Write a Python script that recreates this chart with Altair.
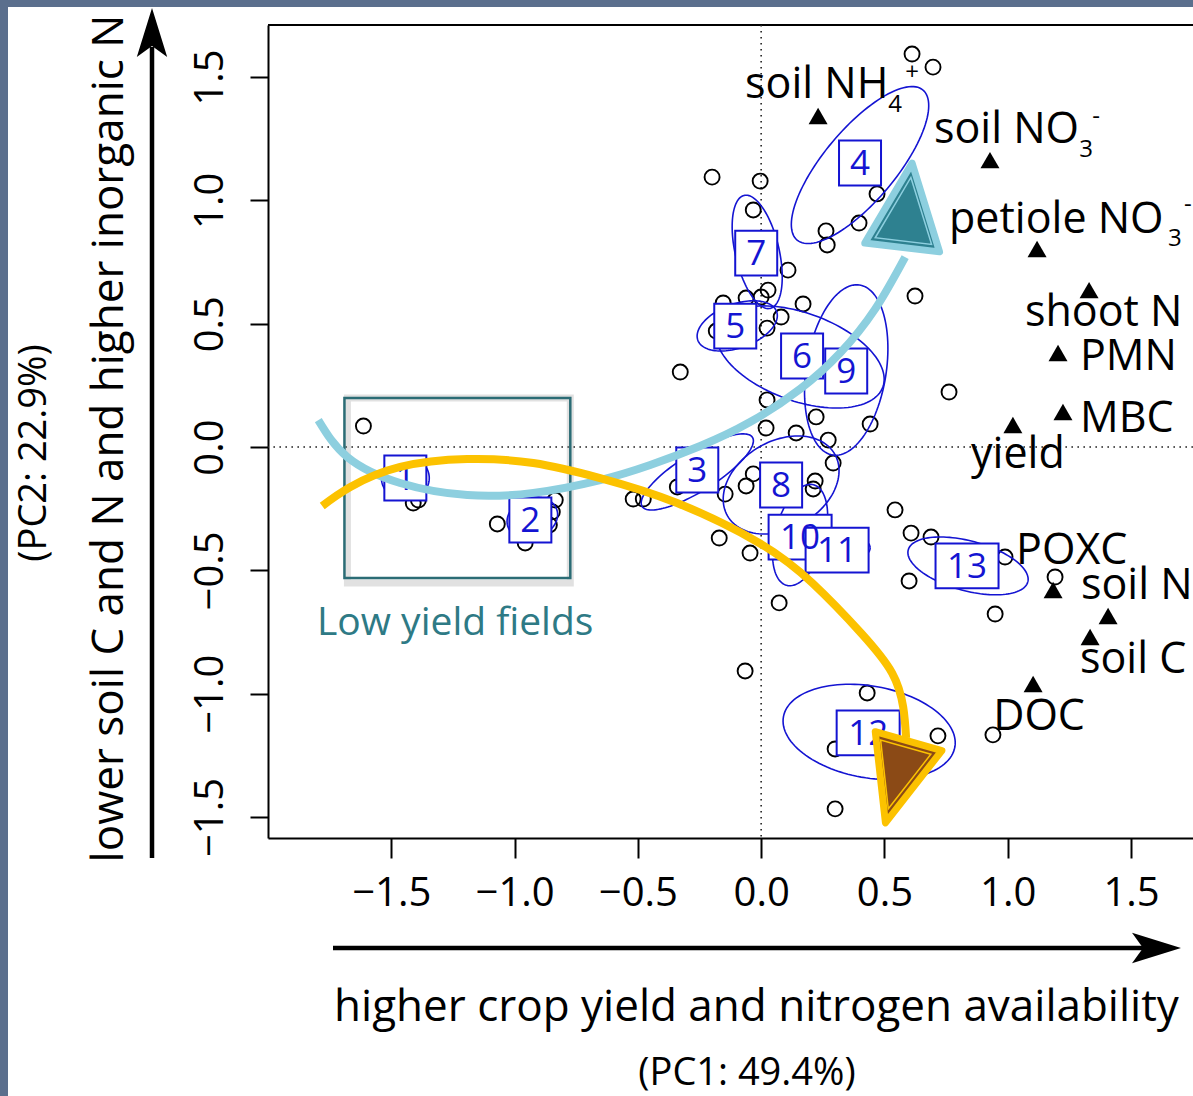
import altair as alt
import numpy as np
import pandas as pd

# ---------------- data (PCA scores / loadings) ----------------
site_x = [0.612, 0.697, -0.199, -0.004, -0.032, 0.109, 0.028, 0.000, -0.061, -0.154,
          0.170, 0.081, 0.024, -0.182, 0.470, 0.397, 0.263, 0.268, 0.624, -0.328,
          0.762, 0.024, 0.223, 0.442, 0.020, 0.142, 0.272, 0.292, -0.032, -0.061,
          -0.146, 0.219, 0.211, -0.340, -0.519, -0.478, 0.543, -0.170, -0.045, 0.608,
          0.689, 0.989, 0.600, 1.192, 0.949, 0.073, -0.065, 0.430, 0.300, 0.717,
          0.940, 0.300, -1.613, -1.411, -1.390, -1.070, -0.957, -0.835, -0.847, -0.859]
site_y = [1.593, 1.540, 1.094, 1.078, 0.961, 0.717, 0.636, 0.608, 0.604, 0.584,
          0.580, 0.527, 0.482, 0.470, 1.026, 0.908, 0.876, 0.819, 0.612, 0.304,
          0.223, 0.191, 0.122, 0.093, 0.077, 0.057, 0.028, -0.065, -0.109, -0.158,
          -0.191, -0.138, -0.170, -0.162, -0.211, -0.211, -0.255, -0.369, -0.430, -0.349,
          -0.365, -0.446, -0.543, -0.527, -0.677, -0.632, -0.908, -0.997, -1.224, -1.171,
          -1.167, -1.467, 0.085, -0.227, -0.215, -0.312, -0.389, -0.215, -0.263, -0.316]

var_x = [0.231, 0.928, 1.119, 1.330, 1.204, 1.224, 1.021, 1.184, 1.407, 1.334, 1.103]
var_y = [1.342, 1.163, 0.803, 0.636, 0.381, 0.142, 0.089, -0.580, -0.685, -0.770, -0.961]

lab_text = ["soil NH", "soil NO", "petiole NO", "shoot N", "PMN", "MBC", "yield",
            "POXC", "soil N", "soil C", "DOC"]
lab_x = [-0.065, 0.701, 0.762, 1.070, 1.293, 1.293, 0.851, 1.034, 1.297, 1.293, 0.941]
lab_y = [1.415, 1.232, 0.868, 0.490, 0.312, 0.061, -0.085, -0.474, -0.616, -0.916, -1.147]

sub_text = ["4", "3", "3"]
sub_x = [0.515, 1.290, 1.650]
sub_y = [1.358, 1.176, 0.815]
sup_text = ["+", "-", "-"]
sup_x = [0.612, 1.358, 1.731]
sup_y = [1.516, 1.338, 0.981]

grp_n = ["1", "2", "3", "4", "5", "6", "7", "8", "9", "10", "11", "12", "13"]
grp_x = [-1.443, -0.936, -0.259, 0.401, -0.105, 0.166, -0.020, 0.081, 0.345, 0.158, 0.308, 0.434, 0.835]
grp_y = [-0.126, -0.296, -0.093, 1.151, 0.490, 0.369, 0.786, -0.154, 0.308, -0.365, -0.418, -1.159, -0.482]

ell_cx = [-1.443, -0.928, -0.259, 0.401, -0.097, 0.158, -0.016, 0.081, 0.345, 0.158, 0.312, 0.438, 0.839]
ell_cy = [-0.126, -0.288, -0.101, 1.143, 0.491, 0.365, 0.791, -0.154, 0.312, -0.357, -0.409, -1.155, -0.482]
ell_a = [0.097, 0.105, 0.264, 0.397, 0.170, 0.357, 0.235, 0.251, 0.349, 0.211, 0.130, 0.353, 0.251]
ell_b = [0.089, 0.081, 0.077, 0.146, 0.089, 0.178, 0.089, 0.178, 0.162, 0.101, 0.057, 0.186, 0.101]
ell_ang = [0, 20, 32, 50, 20, -20, 103, 30, 81, 75, 0, -10, -15]

blue_x = [-1.796, -1.678, -1.464, -1.192, -0.924, -0.653, -0.450, -0.247, -0.045, 0.158, 0.320, 0.462, 0.584]
blue_y = [0.109, -0.041, -0.146, -0.195, -0.186, -0.134, -0.073, 0.004, 0.101, 0.235, 0.381, 0.559, 0.770]
gold_x = [-1.780, -1.666, -1.464, -1.192, -0.924, -0.653, -0.341, -0.008, 0.207, 0.405, 0.531, 0.576, 0.588]
gold_y = [-0.239, -0.162, -0.081, -0.049, -0.065, -0.126, -0.227, -0.389, -0.551, -0.754, -0.916, -1.054, -1.180]

low_x = [-1.690, -0.774]
low_y = [-0.531, 0.199]
low_label = "Low yield fields"
low_lx, low_ly = -1.241, -0.762

head_up = (0.592, 0.980)
head_down = (0.551, -1.358)

ticks = [-1.5, -1.0, -0.5, 0.0, 0.5, 1.0, 1.5]

# ---------------- styling ----------------
FONT = "Open Sans"
BLUE = "#1414d2"
TEAL = "#2e8190"
LIGHTBLUE = "#8dcfdf"
GOLD = "#fcc200"
BROWN = "#8b4a16"
SLATE = "#5b6f8d"
W, H = 925, 813

xs = alt.Scale(domain=[-2.0, 1.7514], nice=False, zero=False)
ys = alt.Scale(domain=[-1.5851, 1.7108], nice=False, zero=False)

x_axis = alt.Axis(values=ticks, format=".1f", grid=False,
                  title="higher crop yield and nitrogen availability",
                  labelFont=FONT, labelFontSize=40, labelColor="black", labelPadding=15,
                  labelFlush=False, labelOverlap=False,
                  tickSize=20, tickWidth=2, tickColor="black",
                  domainColor="black", domainWidth=2,
                  titleFont=FONT, titleFontSize=44, titleFontWeight="normal", titleColor="black",
                  titleX=488, titleY=182, titleAlign="center", titleBaseline="alphabetic")
y_axis = alt.Axis(values=ticks, format=".1f", grid=False,
                  title="lower soil C and N and higher inorganic N",
                  labelFont=FONT, labelFontSize=40, labelColor="black", labelPadding=28,
                  labelAngle=270, labelAlign="center", labelBaseline="alphabetic",
                  labelFlush=False, labelOverlap=False,
                  tickSize=18, tickWidth=2, tickColor="black",
                  domainColor="black", domainWidth=2,
                  titleFont=FONT, titleFontSize=44, titleFontWeight="normal", titleColor="black",
                  titleAngle=270, titleX=-146, titleY=413, titleAlign="center",
                  titleBaseline="alphabetic")


def X(f="x"):
    return alt.X(f"{f}:Q", scale=xs, axis=x_axis)


def Y(f="y"):
    return alt.Y(f"{f}:Q", scale=ys, axis=y_axis)


one = pd.DataFrame({"k": [0]})
zero = pd.DataFrame({"x": [0.0], "y": [0.0]})

# ---------------- layers ----------------
layers = []

# slate strips of the slide background
layers.append(alt.Chart(one).mark_rect(color=SLATE).encode(
    x=alt.value(-268), x2=alt.value(-260), y=alt.value(-25), y2=alt.value(1071)))
layers.append(alt.Chart(one).mark_rect(color=SLATE).encode(
    x=alt.value(-268), x2=alt.value(925), y=alt.value(-25), y2=alt.value(-18)))

# top border of box
layers.append(alt.Chart(one).mark_rule(color="black", strokeWidth=2).encode(
    x=alt.value(0), x2=alt.value(925), y=alt.value(0)))

# dotted zero lines
layers.append(alt.Chart(zero).mark_rule(color="#222222", strokeWidth=1.6, strokeDash=[1.6, 4.4]).encode(x=X()))
layers.append(alt.Chart(zero).mark_rule(color="#222222", strokeWidth=1.6, strokeDash=[1.6, 4.4]).encode(y=Y()))

# site scores
sites = pd.DataFrame({"x": site_x, "y": site_y})
layers.append(alt.Chart(sites).mark_point(shape="circle", size=225, filled=False, color="black",
                                          strokeWidth=1.9, opacity=1).encode(x=X(), y=Y()))

# variable loadings
vars_df = pd.DataFrame({"x": var_x, "y": var_y})
layers.append(alt.Chart(vars_df).mark_point(shape="triangle-up", size=360, filled=True, color="black",
                                            opacity=1).encode(x=X(), y=Y()))

# group ellipses
t = np.linspace(0, 2 * np.pi, 121)
rows = []
for k in range(len(ell_cx)):
    phi = np.radians(ell_ang[k])
    ex = ell_cx[k] + ell_a[k] * np.cos(t) * np.cos(phi) - ell_b[k] * np.sin(t) * np.sin(phi)
    ey = ell_cy[k] + ell_a[k] * np.cos(t) * np.sin(phi) + ell_b[k] * np.sin(t) * np.cos(phi)
    for i in range(len(t)):
        rows.append({"g": k, "i": i, "x": float(ex[i]), "y": float(ey[i])})
ell_df = pd.DataFrame(rows)
layers.append(alt.Chart(ell_df).mark_line(color=BLUE, strokeWidth=1.6).encode(
    x=X(), y=Y(), detail="g:N", order="i:Q"))

# numbered group boxes
SQ1 = "M-1,-1.07L1,-1.07L1,1.07L-1,1.07Z"
SQ2 = "M-1,-0.71L1,-0.71L1,0.71L-1,0.71Z"
box_df = pd.DataFrame({"x": grp_x, "y": grp_y, "n": grp_n})
box_df["path"] = [SQ1 if len(s) == 1 else SQ2 for s in grp_n]
box_df["sz"] = [1764 if len(s) == 1 else 3969 for s in grp_n]
layers.append(alt.Chart(box_df).mark_point(filled=True, fill="white", stroke=BLUE, strokeWidth=2,
                                           opacity=1).encode(
    x=X(), y=Y(), shape=alt.Shape("path:N", scale=None), size=alt.Size("sz:Q", scale=None)))
layers.append(alt.Chart(box_df).mark_text(font=FONT, fontSize=35, color=BLUE, align="center",
                                          baseline="middle", dy=1).encode(x=X(), y=Y(), text="n:N"))

# variable labels
lab_df = pd.DataFrame({"x": lab_x, "y": lab_y, "t": lab_text})
layers.append(alt.Chart(lab_df).mark_text(font=FONT, fontSize=43, color="black", align="left",
                                          baseline="alphabetic").encode(x=X(), y=Y(), text="t:N"))
sub_df = pd.DataFrame({"x": sub_x, "y": sub_y, "t": sub_text})
layers.append(alt.Chart(sub_df).mark_text(font=FONT, fontSize=24, color="black", align="left",
                                          baseline="alphabetic").encode(x=X(), y=Y(), text="t:N"))
sup_df = pd.DataFrame({"x": sup_x, "y": sup_y, "t": sup_text})
layers.append(alt.Chart(sup_df).mark_text(font=FONT, fontSize=24, color="black", align="center",
                                          baseline="middle").encode(x=X(), y=Y(), text="t:N"))

# low yield box + label
low_df = pd.DataFrame({"x": [low_x[0]], "x2": [low_x[1]], "y": [low_y[0]], "y2": [low_y[1]]})
layers.append(alt.Chart(low_df).mark_rect(fill="white", fillOpacity=0, stroke="#9a9a9a",
                                          strokeOpacity=0.3, strokeWidth=7, xOffset=3, yOffset=5).encode(
    x=X(), x2="x2:Q", y=Y(), y2="y2:Q"))
layers.append(alt.Chart(low_df).mark_rect(fill="white", fillOpacity=0, stroke="#2b6c75",
                                          strokeWidth=2.5).encode(x=X(), x2="x2:Q", y=Y(), y2="y2:Q"))
low_lab_df = pd.DataFrame({"x": [low_lx], "y": [low_ly], "t": [low_label]})
layers.append(alt.Chart(low_lab_df).mark_text(font=FONT, fontSize=39, color="#2e7a85", align="center",
                                              baseline="alphabetic").encode(x=X(), y=Y(), text="t:N"))

# curved arrows
blue_df = pd.DataFrame({"x": blue_x, "y": blue_y, "i": list(range(len(blue_x)))})
gold_df = pd.DataFrame({"x": gold_x, "y": gold_y, "i": list(range(len(gold_x)))})
layers.append(alt.Chart(blue_df).mark_line(color=LIGHTBLUE, strokeWidth=8, interpolate="natural").encode(
    x=X(), y=Y(), order="i:Q"))
layers.append(alt.Chart(gold_df).mark_line(color=GOLD, strokeWidth=8, interpolate="natural").encode(
    x=X(), y=Y(), order="i:Q"))

TRI_UP = "M0,-1L0.886,1L-0.886,1Z"
TRI_DN = "M0,-1L0.815,1L-0.815,1Z"
hu = pd.DataFrame({"x": [head_up[0]], "y": [head_up[1]]})
hd = pd.DataFrame({"x": [head_down[0]], "y": [head_down[1]]})
layers.append(alt.Chart(hu).mark_point(shape=TRI_UP, size=7225, angle=6.7, filled=True, fill=TEAL,
                                       stroke=LIGHTBLUE, strokeWidth=7, strokeJoin="round",
                                       opacity=1).encode(x=X(), y=Y()))
layers.append(alt.Chart(hu).mark_point(shape=TRI_UP, size=4100, angle=6.7, filled=False,
                                       stroke=LIGHTBLUE, strokeWidth=1.5, opacity=1).encode(
    x=X(), y=Y(), yOffset=alt.value(4)))
layers.append(alt.Chart(hd).mark_point(shape=TRI_DN, size=7225, angle=195.8, filled=True, fill=BROWN,
                                       stroke=GOLD, strokeWidth=7, strokeJoin="round",
                                       opacity=1).encode(x=X(), y=Y()))
layers.append(alt.Chart(hd).mark_point(shape=TRI_DN, size=4100, angle=195.8, filled=False,
                                       stroke=GOLD, strokeWidth=1.5, opacity=1).encode(
    x=X(), y=Y(), yOffset=alt.value(-4)))

# axis direction arrows (outside the plot)
ARROW = "M0,-1L0.62,1L0,0.55L-0.62,1Z"
layers.append(alt.Chart(one).mark_rule(color="black", strokeWidth=4.5).encode(
    x=alt.value(-116), y=alt.value(833), y2=alt.value(22)))
layers.append(alt.Chart(one).mark_point(shape=ARROW, size=2401, filled=True, color="black",
                                        opacity=1).encode(x=alt.value(-116), y=alt.value(7.5)))
layers.append(alt.Chart(one).mark_rule(color="black", strokeWidth=4.5).encode(
    x=alt.value(65), x2=alt.value(892), y=alt.value(923)))
layers.append(alt.Chart(one).mark_point(shape=ARROW, size=2401, filled=True, color="black", angle=90,
                                        opacity=1).encode(x=alt.value(888.5), y=alt.value(923)))

# axis sub-titles
layers.append(alt.Chart(one).mark_text(text="(PC1: 49.4%)", font=FONT, fontSize=38, color="black",
                                       align="center", baseline="alphabetic").encode(
    x=alt.value(479), y=alt.value(1060)))
layers.append(alt.Chart(one).mark_text(text="(PC2: 22.9%)", font=FONT, fontSize=38, color="black",
                                       align="center", baseline="alphabetic", angle=270).encode(
    x=alt.value(-222), y=alt.value(428)))

chart = alt.layer(*layers).properties(
    width=W, height=H,
    padding={"left": 268, "top": 25, "right": 0, "bottom": 258},
    autosize=alt.AutoSizeParams(type="none"),
    background="white",
).configure_view(strokeWidth=0)

chart.save("out.html", embed_options={"renderer": "svg", "actions": False})
